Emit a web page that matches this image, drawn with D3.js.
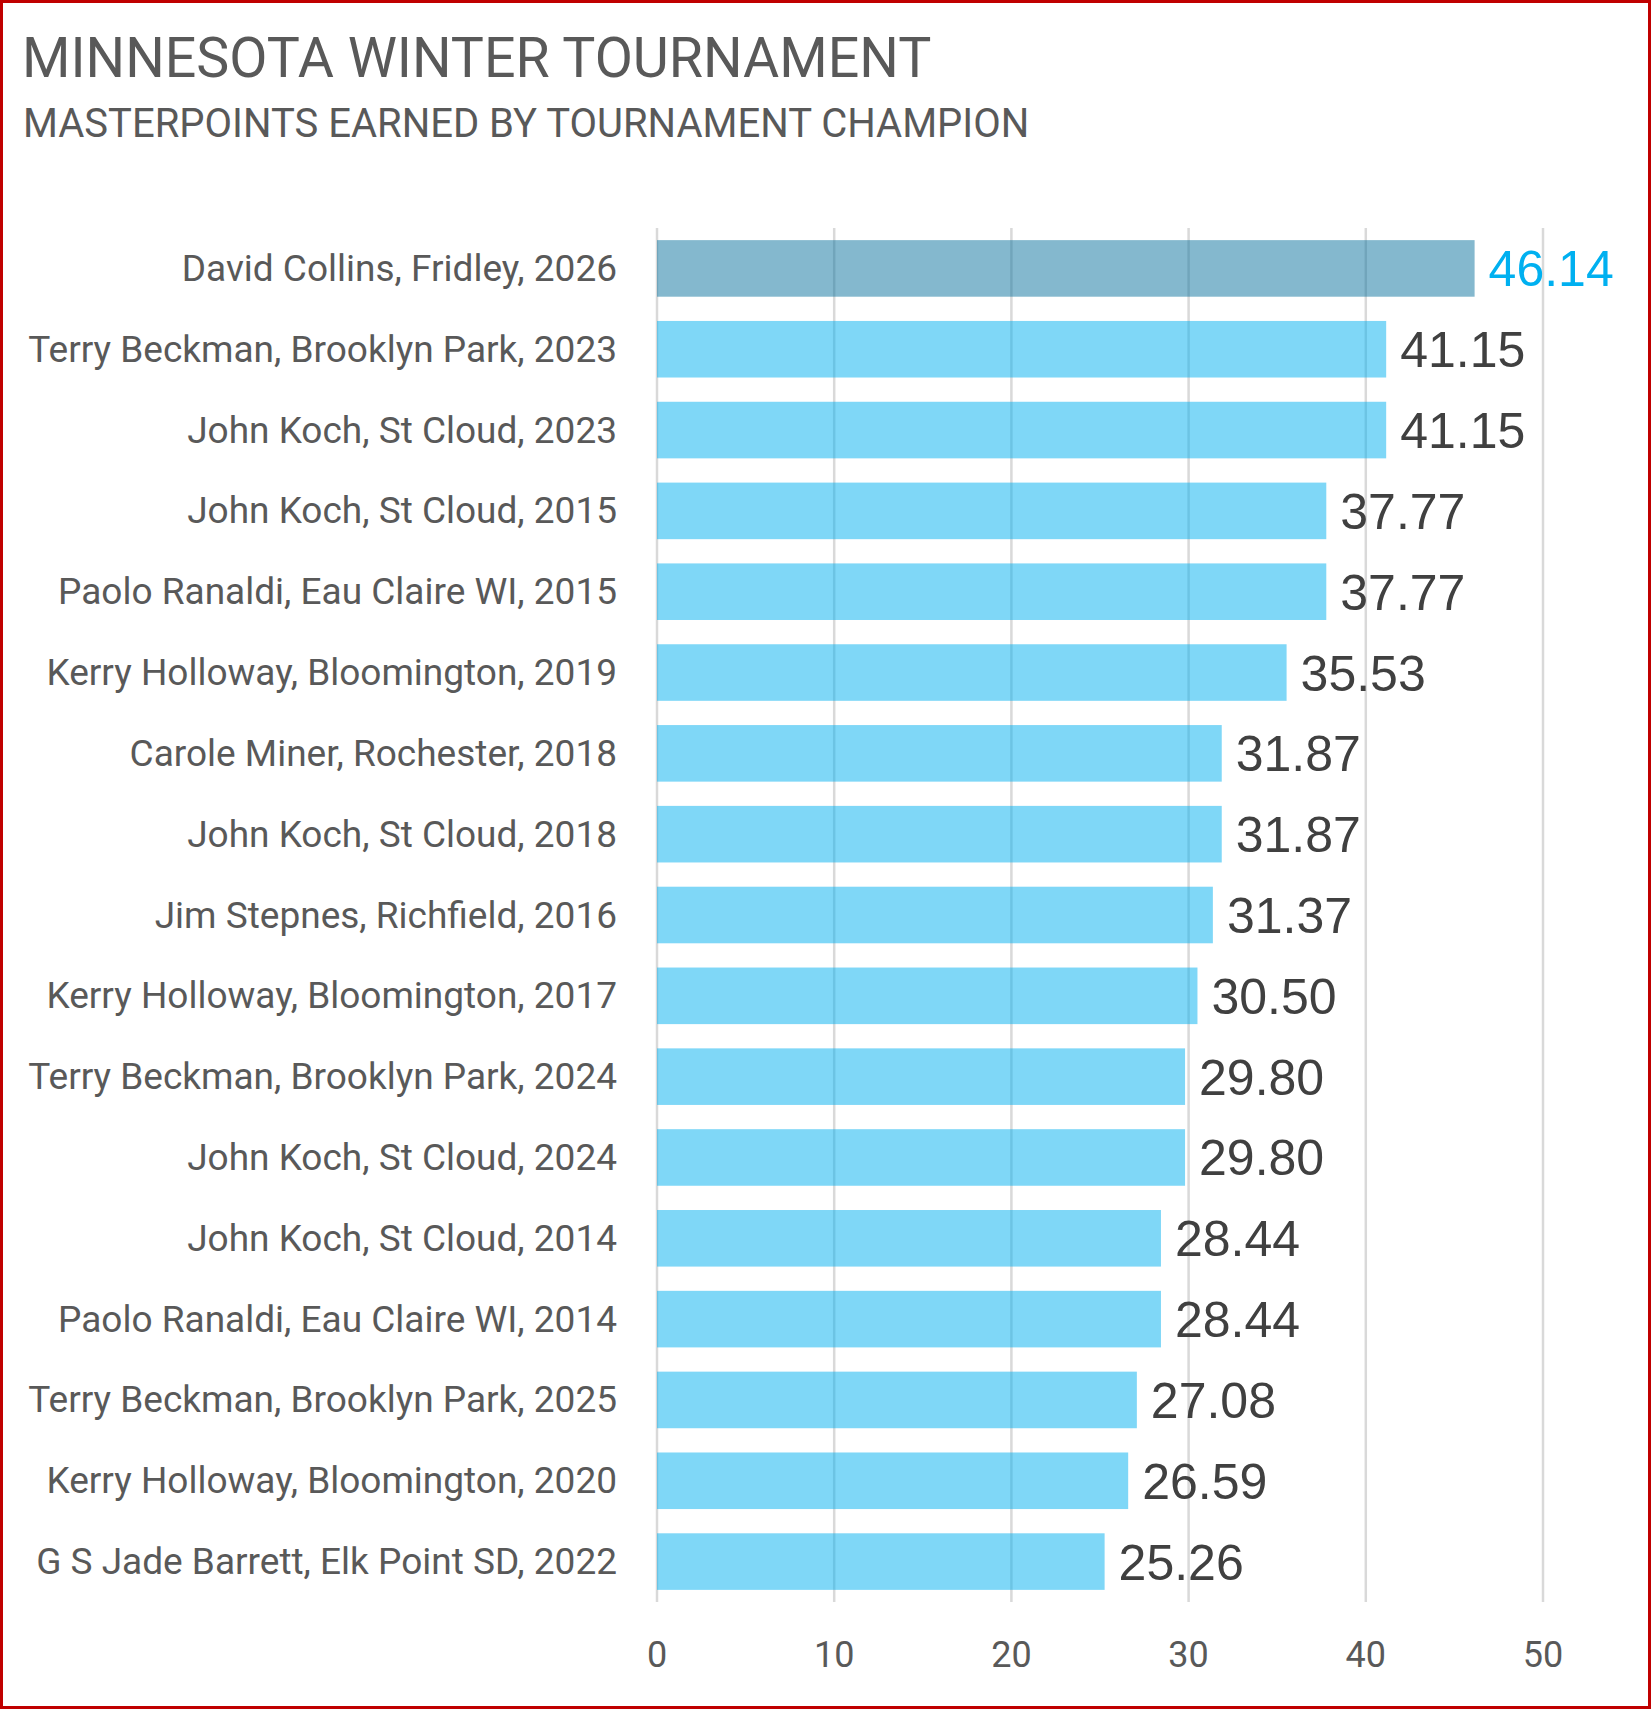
<!DOCTYPE html>
<html>
<head>
<meta charset="utf-8">
<script src="https://cdn.jsdelivr.net/npm/d3@7"></script>
<style>
  html, body { margin: 0; padding: 0; background: #fff; }
  #chart { width: 1651px; height: 1709px; }
  .narrow { font-family: Roboto, 'Liberation Sans', sans-serif; }
</style>
</head>
<body>
<div id="chart"></div>
<script>
// ============================================================================
// Minnesota Winter Tournament - masterpoints earned by champion (horizontal bars)
// ============================================================================

const TITLE = 'MINNESOTA WINTER TOURNAMENT';
const SUBTITLE = 'MASTERPOINTS EARNED BY TOURNAMENT CHAMPION';

const champions = [
    'David Collins, Fridley, 2026',
    'Terry Beckman, Brooklyn Park, 2023',
    'John Koch, St Cloud, 2023',
    'John Koch, St Cloud, 2015',
    'Paolo Ranaldi, Eau Claire WI, 2015',
    'Kerry Holloway, Bloomington, 2019',
    'Carole Miner, Rochester, 2018',
    'John Koch, St Cloud, 2018',
    'Jim Stepnes, Richfield, 2016',
    'Kerry Holloway, Bloomington, 2017',
    'Terry Beckman, Brooklyn Park, 2024',
    'John Koch, St Cloud, 2024',
    'John Koch, St Cloud, 2014',
    'Paolo Ranaldi, Eau Claire WI, 2014',
    'Terry Beckman, Brooklyn Park, 2025',
    'Kerry Holloway, Bloomington, 2020',
    'G S Jade Barrett, Elk Point SD, 2022'
];

const masterpoints = [46.14, 41.15, 41.15, 37.77, 37.77, 35.53, 31.87, 31.87,
    31.37, 30.50, 29.80, 29.80, 28.44, 28.44, 27.08, 26.59, 25.26];

const xTicks = [0, 10, 20, 30, 40, 50];

const data = champions.map((name, i) => ({ name, value: masterpoints[i], latest: i === 0 }));

const width = 1651;
const height = 1709;
const margin = { top: 228, right: 108, bottom: 107, left: 657 };
const w = width - margin.left - margin.right;
const h = height - margin.top - margin.bottom;

const svg = d3.select('#chart').append('svg')
    .attr('width', width)
    .attr('height', height);

svg.append('rect')
    .attr('width', width).attr('height', height)
    .attr('fill', '#fff');

// Titles
svg.append('text')
    .attr('class', 'narrow')
    .attr('x', 22).attr('y', 77)
    .style('font-size', '55.5px')
    .style('fill', '#595959')
    .text(TITLE);

svg.append('text')
    .attr('class', 'narrow')
    .attr('x', 23).attr('y', 137)
    .style('font-size', '40px')
    .style('fill', '#595959')
    .text(SUBTITLE);

const g = svg.append('g')
    .attr('transform', `translate(${margin.left},${margin.top})`);

const xScale = d3.scaleLinear().domain([0, 50]).range([0, w]);
const yScale = d3.scaleBand()
    .domain(champions)
    .range([0, h])
    .paddingInner(0.3)
    .paddingOuter(0.15);

// Grid
g.selectAll('.grid-v')
    .data(xTicks)
    .join('line')
    .attr('class', 'grid-v')
    .attr('x1', d => xScale(d)).attr('x2', d => xScale(d))
    .attr('y1', 0).attr('y2', h)
    .attr('stroke', '#d9d9d9')
    .attr('stroke-width', 2.5);

// Bars (semi-transparent, so the grid shows through)
g.selectAll('.bar')
    .data(data)
    .join('rect')
    .attr('class', 'bar')
    .attr('x', 0)
    .attr('y', d => yScale(d.name))
    .attr('width', d => xScale(d.value))
    .attr('height', yScale.bandwidth())
    .attr('fill', d => d.latest ? '#09719d' : '#00b0f0')
    .attr('fill-opacity', 0.5);

// Value labels
g.selectAll('.value')
    .data(data)
    .join('text')
    .attr('class', 'value')
    .attr('x', d => xScale(d.value) + 14)
    .attr('y', d => yScale(d.name) + yScale.bandwidth() / 2 + 18)
    .style('font-family', "'Liberation Sans', Arial, sans-serif")
    .style('font-size', '50px')
    .style('fill', d => d.latest ? '#00b0f0' : '#404040')
    .text(d => d3.format('.2f')(d.value));

// Category labels
g.selectAll('.cat')
    .data(data)
    .join('text')
    .attr('class', 'cat narrow')
    .attr('x', -40)
    .attr('y', d => yScale(d.name) + yScale.bandwidth() / 2 + 12.5)
    .attr('text-anchor', 'end')
    .style('font-size', '37px')
    .style('fill', '#595959')
    .text(d => d.name);

// X axis tick labels
g.selectAll('.tick-label')
    .data(xTicks)
    .join('text')
    .attr('class', 'tick-label narrow')
    .attr('x', d => xScale(d))
    .attr('y', h + 65)
    .attr('text-anchor', 'middle')
    .style('font-size', '36px')
    .style('fill', '#595959')
    .text(d => d);

// Outer border
svg.append('rect')
    .attr('x', 1.5).attr('y', 1.5)
    .attr('width', width - 3).attr('height', height - 3)
    .attr('fill', 'none')
    .attr('stroke', '#c00000')
    .attr('stroke-width', 3);
</script>
</body>
</html>
